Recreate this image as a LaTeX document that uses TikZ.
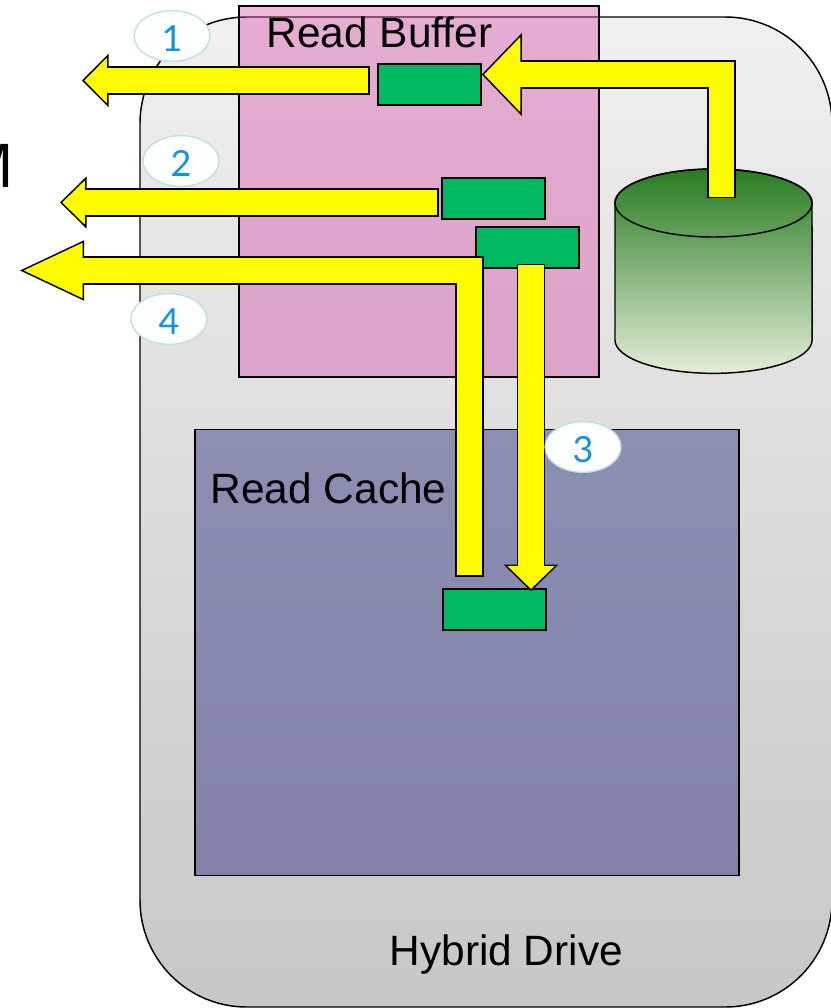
\documentclass[tikz,border=0pt]{standalone}
\usepackage{fontspec}
\setmainfont{Liberation Sans}
\newfontfamily\numfont{Lato}
\usetikzlibrary{arrows.meta,calc,shapes.geometric}
\definecolor{bufferpink}{RGB}{212,72,162}
\definecolor{blockgreen}{RGB}{0,185,96}
\definecolor{tagline}{RGB}{188,223,230}
\definecolor{tagfill}{RGB}{251,254,253}
\definecolor{tagtext}{RGB}{18,149,216}
\definecolor{cacheTop}{RGB}{140,142,178}
\definecolor{cacheBot}{RGB}{130,130,168}
\definecolor{diskTop}{RGB}{38,124,32}
\definecolor{diskMid}{RGB}{172,196,126}
\definecolor{diskBot}{RGB}{228,238,216}
\definecolor{arrowyellow}{RGB}{255,252,0}

\begin{document}
\begin{tikzpicture}
[x=0.75pt,y=-0.75pt,line width=1.1pt,
 blockarrow/.style 2 args={draw=black,line width=21.4pt,shorten <=-1pt,
   -{Triangle[length=#1,width=#2,fill=arrowyellow,color=black,line width=1.1pt,sharp]},
   postaction={draw=arrowyellow,line width=18.8pt,-,shorten <=0pt,shorten >=#1-3pt}}]
  \tikzstyle{block}=[draw=black,fill=blockgreen,minimum width=77pt,minimum height=30.5pt,inner sep=0pt,outer sep=0pt]
  \tikzstyle{tag}=[ellipse,draw=tagline,fill=tagfill,line width=1pt,minimum width=57pt,minimum height=38pt,inner sep=0pt,text=tagtext,text height=22.5pt,text depth=0pt,font=\numfont\fontsize{27pt}{27pt}\selectfont]
  \tikzstyle{caption}=[inner sep=0pt,font=\fontsize{31.8pt}{31.8pt}\selectfont]

  \clip (0,0) rectangle (831,1008);

  \node[draw=black,rounded corners=80pt,top color=white!94!black,bottom color=white!78!black,minimum width=519pt,minimum height=742.5pt,inner sep=0pt,outer sep=0pt] (drive) at (486,512) {};
  \node[draw=black,fill=bufferpink,fill opacity=.4,minimum width=270pt,minimum height=278pt,inner sep=0pt,outer sep=0pt] (buffer) at (419,191.5) {};
  \node[draw=black,top color=cacheTop,bottom color=cacheBot,minimum width=408pt,minimum height=334.5pt,inner sep=0pt,outer sep=0pt] (cache) at (467,652.5) {};

  \node[caption,anchor=base west] (bufferlabel) at (266,47) {Read Buffer};
  \node[caption,anchor=base west] (cachelabel) at (210,503) {Read Cache};
  \node[caption,anchor=base west] (drivelabel) at (389,965) {Hybrid Drive};
  \node[inner sep=0pt,anchor=base east,font=\fontsize{47pt}{47pt}\selectfont] (mlabel) at (14,187) {M};

  % disk body, then its lid
  \path[draw=black,top color=diskTop,middle color=diskMid,bottom color=diskBot] (615,203) -- (615,340)
    arc[start angle=180,end angle=360,x radius=73.9pt,y radius=25pt] -- (812,203)
    arc[start angle=0,end angle=180,x radius=73.9pt,y radius=25.5pt] -- cycle;
  \node[ellipse,draw=black,minimum width=147.8pt,minimum height=51pt,inner sep=0pt,outer sep=0pt] (disk) at (713.5,203) {};

  \node[block] (b1) at (429.5,84.5) {};
  \node[block] (b2) at (493.5,198.5) {};
  \node[block] (b3) at (527.5,247.5) {};
  \node[block] (b4) at (494.5,609.5) {};

  \coordinate (diskout) at (721.5,197);
  \coordinate (exit1) at (82,80.5);
  \coordinate (exit2) at (60,202.5);
  \coordinate (exit3) at (20,270.5);

  \draw[blockarrow={30pt}{62pt}] (diskout) |- ($(b1.east)+(1,-10)$);
  \draw[blockarrow={20pt}{40pt}] ($(b1.west)+(-10,-4)$) -- (exit1);
  \draw[blockarrow={20pt}{39pt}] ($(b2.west)+(-5,4)$) -- (exit2);
  \draw[blockarrow={48pt}{45pt}] ($(b4.north)+(-25,-14)$) |- (exit3);
  \draw[blockarrow={20pt}{41pt}] ($(b3.south)+(3.5,-3)$) -- ($(b4.north)+(36.5,2)$);

  \node[tag] (t1) at (172,36) {1};
  \node[tag] (t2) at (181,161) {2};
  \node[tag] (t3) at (583,447) {3};
  \node[tag] (t4) at (169,319) {4};
\end{tikzpicture}
\end{document}
